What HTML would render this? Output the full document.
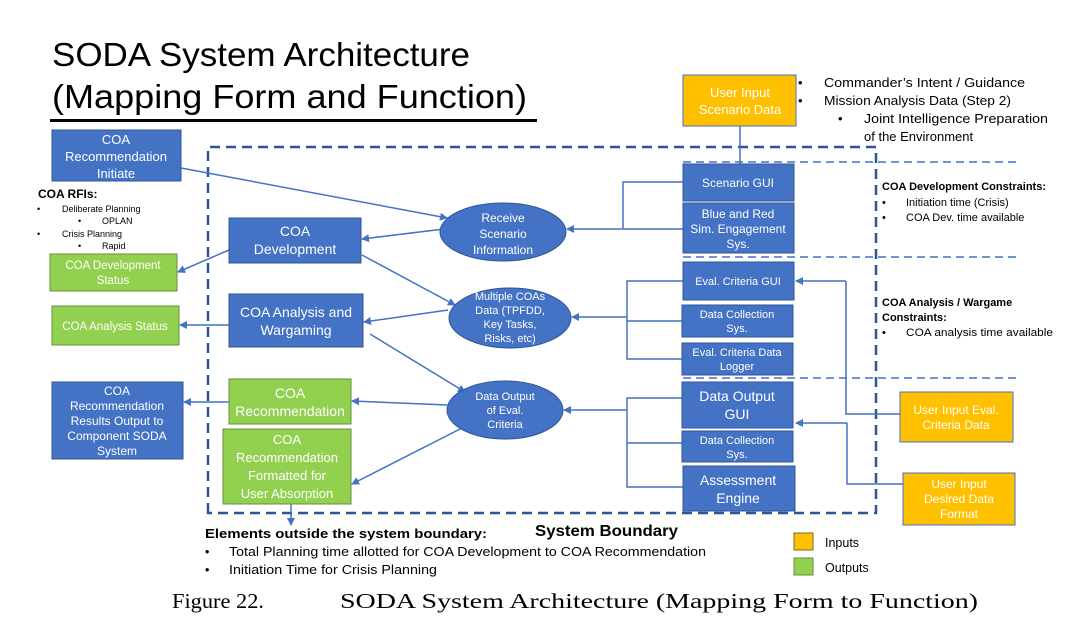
<!DOCTYPE html>
<html><head><meta charset="utf-8"><style>
body{margin:0;background:#fff;}
svg{display:block;font-family:"Liberation Sans",sans-serif;}
.w{fill:#fff;font-size:12px;text-anchor:middle;}
.b{fill:#000;}
</style></head><body>
<svg width="1080" height="625" viewBox="0 0 1080 625">
<defs><marker id="a" markerWidth="8" markerHeight="8" refX="7" refY="4" orient="auto" markerUnits="userSpaceOnUse"><path d="M0,0 L8,4 L0,8 z" fill="#4472C4"/></marker></defs>
<text x="52" y="66" font-size="33" fill="#000" textLength="418" lengthAdjust="spacingAndGlyphs">SODA System Architecture</text>
<text x="52" y="108" font-size="33" fill="#000" textLength="475" lengthAdjust="spacingAndGlyphs">(Mapping Form and Function)</text>
<rect x="50" y="119" width="487" height="3" fill="#000"/>
<g stroke="#4472C4" stroke-width="1.5" stroke-dasharray="8,5" fill="none">
<line x1="683" y1="162" x2="1020" y2="162"/><line x1="683" y1="257" x2="1020" y2="257"/><line x1="683" y1="378" x2="1020" y2="378"/>
</g>
<path d="M208,513 L208,147 L876,147 L876,513 Z" stroke="#2F5597" stroke-width="2.5" stroke-dasharray="10,6" fill="none"/>
<g stroke="#4472C4" stroke-width="1.5" fill="none">
<line x1="181" y1="168" x2="447" y2="218" marker-end="url(#a)"/>
<line x1="444" y1="229" x2="362" y2="239" marker-end="url(#a)"/>
<line x1="362" y1="255" x2="455" y2="305" marker-end="url(#a)"/>
<line x1="448" y1="310" x2="364" y2="322" marker-end="url(#a)"/>
<line x1="370" y1="334" x2="465" y2="392" marker-end="url(#a)"/>
<line x1="447" y1="405" x2="352" y2="401" marker-end="url(#a)"/>
<line x1="462" y1="428" x2="352" y2="484" marker-end="url(#a)"/>
<line x1="229" y1="250" x2="178" y2="272" marker-end="url(#a)"/>
<line x1="229" y1="325" x2="180" y2="325" marker-end="url(#a)"/>
<line x1="229" y1="402" x2="184" y2="402" marker-end="url(#a)"/>
<line x1="291" y1="504" x2="291" y2="525" marker-end="url(#a)"/>
<path d="M683,182 H623 V229 M683,229 H623"/><line x1="623" y1="229" x2="567" y2="229" marker-end="url(#a)"/>
<path d="M683,281 H627 V359 H683 M683,321 H627"/><line x1="627" y1="317" x2="572" y2="317" marker-end="url(#a)"/>
<path d="M682,398 H627 V487 H683 M683,443 H627"/><line x1="627" y1="410" x2="564" y2="410" marker-end="url(#a)"/>
<line x1="740" y1="126" x2="740" y2="164"/>
<path d="M900,414 H846 V281"/><line x1="846" y1="281" x2="796" y2="281" marker-end="url(#a)"/>
<path d="M903,484 H847 V423"/><line x1="847" y1="423" x2="796" y2="423" marker-end="url(#a)"/>
</g>
<g stroke="#2F5597" stroke-width="1" fill="#4472C4">
<rect x="52" y="130" width="129" height="51"/>
<rect x="229" y="218" width="132" height="45"/>
<rect x="229" y="294" width="134" height="53"/>
<rect x="52" y="382" width="131" height="77"/>
<rect x="683" y="164" width="111" height="37"/>
<rect x="683" y="203" width="111" height="50"/>
<rect x="683" y="262" width="111" height="38"/>
<rect x="682" y="305" width="111" height="32"/>
<rect x="682" y="343" width="111" height="32"/>
<rect x="682" y="382" width="111" height="46"/>
<rect x="682" y="431" width="111" height="31"/>
<rect x="683" y="466" width="112" height="45"/>
<ellipse cx="503" cy="232" rx="63" ry="29"/>
<ellipse cx="510" cy="318" rx="61" ry="30"/>
<ellipse cx="505" cy="410" rx="58" ry="29"/>
</g>
<g stroke="#6A8F3A" stroke-width="1" fill="#92D050">
<rect x="50" y="254" width="127" height="37"/>
<rect x="52" y="306" width="127" height="39"/>
<rect x="229" y="379" width="122" height="45"/>
<rect x="223" y="429" width="128" height="75"/>
<rect x="794" y="558" width="19" height="17"/>
</g>
<g stroke="#7F6A20" stroke-width="1" fill="#FFC000">
<rect x="683" y="75" width="113" height="51" stroke="#4472C4"/>
<rect x="900" y="392" width="113" height="50" stroke="#4472C4"/>
<rect x="903" y="473" width="112" height="52" stroke="#4472C4"/>
<rect x="794" y="533" width="19" height="17"/>
</g>
<g class="w">
<text x="116" y="144" font-size="13">COA</text><text x="116" y="161" font-size="13">Recommendation</text><text x="116" y="178" font-size="13">Initiate</text>
<text x="295" y="236" font-size="14">COA</text><text x="295" y="254" font-size="14">Development</text>
<text x="296" y="317" font-size="14">COA Analysis and</text><text x="296" y="335" font-size="14">Wargaming</text>
<text x="117" y="395">COA</text><text x="117" y="410">Recommendation</text><text x="117" y="425">Results Output to</text><text x="117" y="440">Component SODA</text><text x="117" y="455">System</text>
<text x="738" y="187">Scenario GUI</text>
<text x="738" y="218">Blue and Red</text><text x="738" y="233">Sim. Engagement</text><text x="738" y="248">Sys.</text>
<text x="738" y="285" font-size="11">Eval. Criteria GUI</text>
<text x="737" y="318" font-size="11">Data Collection</text><text x="737" y="332" font-size="11">Sys.</text>
<text x="737" y="356" font-size="11">Eval. Criteria Data</text><text x="737" y="370" font-size="11">Logger</text>
<text x="737" y="401" font-size="14">Data Output</text><text x="737" y="419" font-size="14">GUI</text>
<text x="737" y="444" font-size="11">Data Collection</text><text x="737" y="458" font-size="11">Sys.</text>
<text x="738" y="485" font-size="14">Assessment</text><text x="738" y="503" font-size="14">Engine</text>
<text x="503" y="222">Receive</text><text x="503" y="238">Scenario</text><text x="503" y="254">Information</text>
<text x="510" y="300" font-size="11">Multiple COAs</text><text x="510" y="314" font-size="11">Data (TPFDD,</text><text x="510" y="328" font-size="11">Key Tasks,</text><text x="510" y="342" font-size="11">Risks, etc)</text>
<text x="505" y="400" font-size="11">Data Output</text><text x="505" y="414" font-size="11">of Eval.</text><text x="505" y="428" font-size="11">Criteria</text>
<text x="113" y="269" font-size="11.5">COA Development</text><text x="113" y="284" font-size="11.5">Status</text>
<text x="115" y="330" font-size="11.5">COA Analysis Status</text>
<text x="290" y="398" font-size="14">COA</text><text x="290" y="416" font-size="14">Recommendation</text>
<text x="287" y="444" font-size="13">COA</text><text x="287" y="462" font-size="13">Recommendation</text><text x="287" y="480" font-size="13">Formatted for</text><text x="287" y="498" font-size="13">User Absorption</text>
<text x="740" y="97" font-size="13">User Input</text><text x="740" y="114" font-size="13">Scenario Data</text>
<text x="956" y="414">User Input Eval.</text><text x="956" y="429">Criteria Data</text>
<text x="959" y="488">User Input</text><text x="959" y="503">Desired Data</text><text x="959" y="518">Format</text>
</g>
<g class="b" font-size="13">
<text x="798" y="87">•</text><text x="824" y="87" textLength="201" lengthAdjust="spacingAndGlyphs">Commander’s Intent / Guidance</text>
<text x="798" y="105">•</text><text x="824" y="105" textLength="187" lengthAdjust="spacingAndGlyphs">Mission Analysis Data (Step 2)</text>
<text x="838" y="123">•</text><text x="864" y="123" textLength="184" lengthAdjust="spacingAndGlyphs">Joint Intelligence Preparation</text>
<text x="864" y="141">of the Environment</text>
</g>
<g class="b" font-size="11">
<text x="882" y="190" font-weight="bold">COA Development Constraints:</text>
<text x="882" y="206">•</text><text x="906" y="206">Initiation time (Crisis)</text>
<text x="882" y="221">•</text><text x="906" y="221">COA Dev. time available</text>
<text x="882" y="306" font-weight="bold">COA Analysis / Wargame</text>
<text x="882" y="321" font-weight="bold">Constraints:</text>
<text x="882" y="336">•</text><text x="906" y="336" textLength="147" lengthAdjust="spacingAndGlyphs">COA analysis time available</text>
<text x="38" y="198" font-size="12" font-weight="bold">COA RFIs:</text>
</g>
<g class="b" font-size="9">
<text x="37" y="212">•</text><text x="62" y="212">Deliberate Planning</text>
<text x="78" y="224">•</text><text x="102" y="224">OPLAN</text>
<text x="37" y="237">•</text><text x="62" y="237">Crisis Planning</text>
<text x="78" y="249">•</text><text x="102" y="249">Rapid</text>
</g>
<text x="535" y="536" font-size="16" font-weight="bold" textLength="143" lengthAdjust="spacingAndGlyphs">System Boundary</text>
<text x="205" y="538" font-size="12.5" font-weight="bold" textLength="282" lengthAdjust="spacingAndGlyphs">Elements outside the system boundary:</text>
<g font-size="12.5"><text x="205" y="556">•</text><text x="229" y="556" textLength="477" lengthAdjust="spacingAndGlyphs">Total Planning time allotted for COA Development to COA Recommendation</text>
<text x="205" y="574">•</text><text x="229" y="574" textLength="208" lengthAdjust="spacingAndGlyphs">Initiation Time for Crisis Planning</text>
<text x="825" y="547">Inputs</text><text x="825" y="572">Outputs</text></g>
<text x="172" y="608" font-family="Liberation Serif,serif" font-size="21" textLength="92" lengthAdjust="spacingAndGlyphs">Figure 22.</text>
<text x="340" y="608" font-family="Liberation Serif,serif" font-size="21" textLength="638" lengthAdjust="spacingAndGlyphs">SODA System Architecture (Mapping Form to Function)</text>
</svg>
</body></html>
